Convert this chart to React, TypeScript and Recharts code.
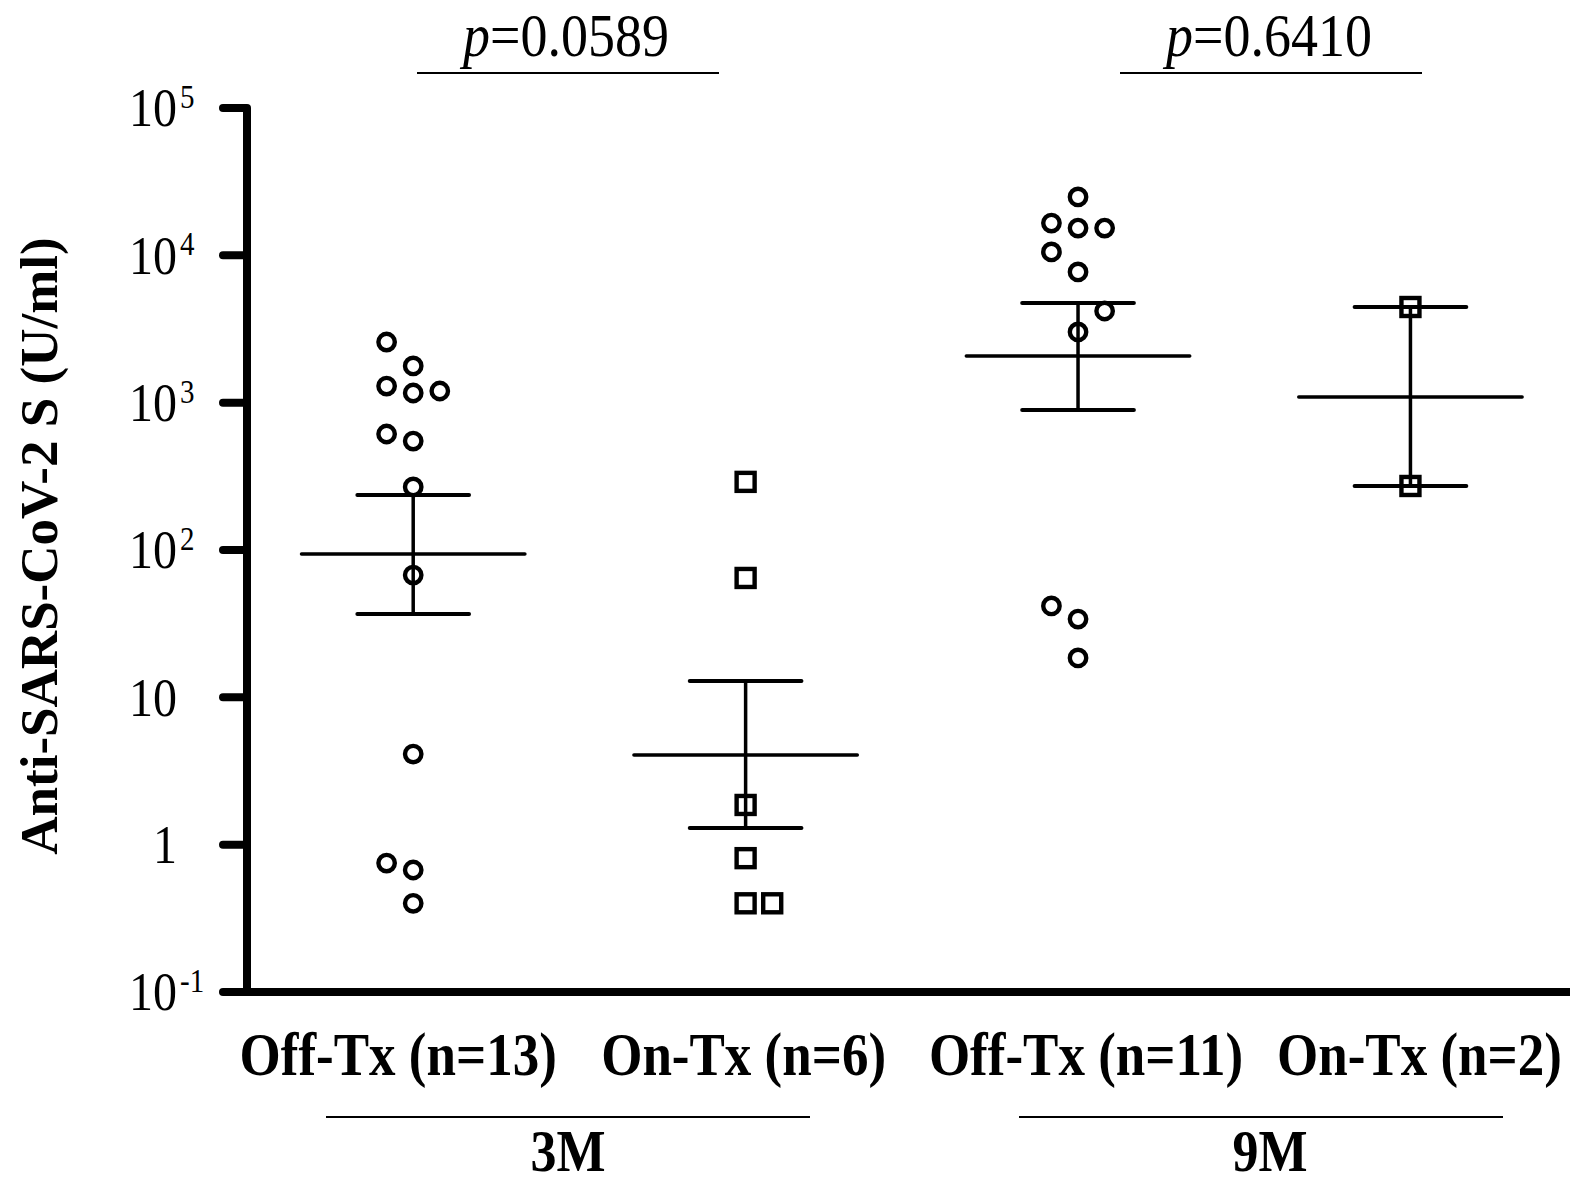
import React from "react";
import {
  ScatterChart,
  Scatter,
  XAxis,
  YAxis,
  ReferenceLine,
} from "recharts";

// ---------- data ----------
const groupLabels = ["Off-Tx (n=13)", "On-Tx (n=6)", "Off-Tx (n=11)", "On-Tx (n=2)"];
const groupPositions = [1, 2, 3, 4];
const periodLabels = ["3M", "9M"];
const pValues = ["0.0589", "0.6410"];
const yTicks = [0.1, 1, 10, 100, 1000, 10000, 100000];
const yTickLabels = [
  ["10", "-1"],
  ["1", ""],
  ["10", ""],
  ["10", "2"],
  ["10", "3"],
  ["10", "4"],
  ["10", "5"],
];

// values (U/ml) and their jitter column (-1 left, 0 centre, 1 right)
const off3M = [2580, 1775, 1297, 1163, 1200, 613, 549, 268, 67.6, 4.12, 0.75, 0.673, 0.4];
const off3MCol = [-1, 0, -1, 0, 1, -1, 0, 0, 0, 0, -1, 0, 0];
const on3M = [290, 64.6, 1.86, 0.81, 0.4, 0.4];
const on3MCol = [0, 0, 0, 0, 0, 1];
const off9M = [24900, 16560, 15300, 15300, 10550, 7710, 4190, 3020, 41.7, 34.0, 18.5];
const off9MCol = [0, -1, 0, 1, -1, 0, 1, 0, -1, 0, 0];
const on9M = [4460, 272];
const on9MCol = [0, 0];

const means = [94, 4.06, 2075, 1091];
const upper = [236, 12.9, 4740, 4460];
const lower = [36.8, 1.3, 891, 272];

// ---------- layout constants ----------
const W = 1570;
const H = 1185;
const JITTER = 0.08;
const MEAN_HALF = 0.336;
const CAP_HALF = 0.168;
const FONT = "'Times New Roman', 'Liberation Serif', serif";
const SY = 1.15;
const LABEL_DX = [-15, -2, 8, 9];

const build = (vals: number[], cols: number[], g: number) =>
  vals.map((v, i) => ({ x: g + cols[i] * JITTER, y: v }));

const Circle = (p: any) => (
  <circle cx={p.cx} cy={p.cy} r={8.2} fill="none" stroke="#000" strokeWidth={4.4} />
);
const Square = (p: any) => (
  <rect x={p.cx - 9} y={p.cy - 9} width={18} height={18} fill="none" stroke="#000" strokeWidth={4.4} />
);

const YTick = (p: any) => {
  const idx = yTicks.indexOf(p.payload.value);
  const lab = yTickLabels[idx] || ["", ""];
  return (
    <g transform={`translate(${p.x},${p.y}) scale(1,${SY})`}>
      <text x={0} y={16} textAnchor="end" fontSize={48} fontFamily={FONT} fill="#000">
        {lab[0]}
      </text>
      {lab[1] ? (
        <text x={3} y={0} textAnchor="start" fontSize={29} fontFamily={FONT} fill="#000">
          {lab[1]}
        </text>
      ) : null}
    </g>
  );
};

const XTick = (p: any) => {
  const idx = groupPositions.indexOf(p.payload.value);
  return (
    <g transform={`translate(${p.x + (LABEL_DX[idx] || 0)},${p.y + 83}) scale(1,${SY})`}>
      <text x={0} y={0} textAnchor="middle" fontSize={53} fontWeight="bold" fontFamily={FONT} fill="#000">
        {groupLabels[idx]}
      </text>
    </g>
  );
};

const seg = (x1: number, y1: number, x2: number, y2: number) => [
  { x: x1, y: y1 },
  { x: x2, y: y2 },
];

export default function App() {
  const lineStyle = { stroke: "#000", strokeWidth: 4, strokeLinecap: "round" as const };
  return (
    <div style={{ position: "absolute", left: 0, top: 0, width: W, height: H, background: "#fff" }}>
      <ScatterChart
        width={W}
        height={H}
        margin={{ top: 108, right: 0, left: 0, bottom: 93 }}
      >
        <XAxis
          type="number"
          dataKey="x"
          domain={[0.5, 4.48]}
          ticks={groupPositions}
          allowDataOverflow
          height={100}
          tickSize={0}
          tickMargin={0}
          tickLine={false}
          axisLine={{ stroke: "#000", strokeWidth: 8 }}
          tick={<XTick />}
          interval={0}
        />
        <YAxis
          type="number"
          dataKey="y"
          scale="log"
          domain={[0.1, 100000]}
          ticks={yTicks}
          allowDataOverflow
          width={247}
          tickSize={24}
          tickMargin={46}
          tickLine={{ stroke: "#000", strokeWidth: 8, strokeLinecap: "round" }}
          axisLine={{ stroke: "#000", strokeWidth: 8 }}
          tick={<YTick />}
          interval={0}
        />
        <Scatter data={build(off3M, off3MCol, 1)} shape={<Circle />} isAnimationActive={false} />
        <Scatter data={build(on3M, on3MCol, 2)} shape={<Square />} isAnimationActive={false} />
        <Scatter data={build(off9M, off9MCol, 3)} shape={<Circle />} isAnimationActive={false} />
        <Scatter data={build(on9M, on9MCol, 4)} shape={<Square />} isAnimationActive={false} />
        {groupPositions.map((g, i) => (
          <ReferenceLine key={`m${i}`} segment={seg(g - MEAN_HALF, means[i], g + MEAN_HALF, means[i])} {...lineStyle} strokeWidth={3.5} ifOverflow="visible" />
        ))}
        {groupPositions.map((g, i) => (
          <ReferenceLine key={`u${i}`} segment={seg(g - CAP_HALF, upper[i], g + CAP_HALF, upper[i])} {...lineStyle} ifOverflow="visible" />
        ))}
        {groupPositions.map((g, i) => (
          <ReferenceLine key={`l${i}`} segment={seg(g - CAP_HALF, lower[i], g + CAP_HALF, lower[i])} {...lineStyle} ifOverflow="visible" />
        ))}
        {groupPositions.map((g, i) => (
          <ReferenceLine key={`s${i}`} segment={seg(g, lower[i], g, upper[i])} {...lineStyle} strokeWidth={3.5} ifOverflow="visible" />
        ))}
      </ScatterChart>
      <svg
        width={W}
        height={H}
        style={{ position: "absolute", left: 0, top: 0, pointerEvents: "none" }}
      >
        <text
          transform="translate(57,546) rotate(-90)"
          textAnchor="middle"
          fontSize={53}
          fontWeight="bold"
          fontFamily={FONT}
          fill="#000"
        >
          Anti-SARS-CoV-2 S (U/ml)
        </text>
        {/* p-value annotations */}
        {[566, 1269].map((cx, i) => (
          <g key={`p${i}`}>
            <g transform={`translate(${cx},56) scale(1,${SY})`}>
              <text textAnchor="middle" fontSize={54} fontFamily={FONT} fill="#000">
                <tspan fontStyle="italic">p</tspan>={pValues[i]}
              </text>
            </g>
            <line x1={cx - 149} x2={cx + 153} y1={73} y2={73} stroke="#000" strokeWidth={2} />
          </g>
        ))}
        {/* period annotations */}
        {[568, 1261].map((cx, i) => (
          <g key={`t${i}`}>
            <line x1={cx - 242} x2={cx + 242} y1={1117} y2={1117} stroke="#000" strokeWidth={2} />
            <g transform={`translate(${cx + (i === 1 ? 9 : 0)},1171) scale(1,${SY})`}>
              <text textAnchor="middle" fontSize={52} fontWeight="bold" fontFamily={FONT} fill="#000">
                {periodLabels[i]}
              </text>
            </g>
          </g>
        ))}
      </svg>
    </div>
  );
}
